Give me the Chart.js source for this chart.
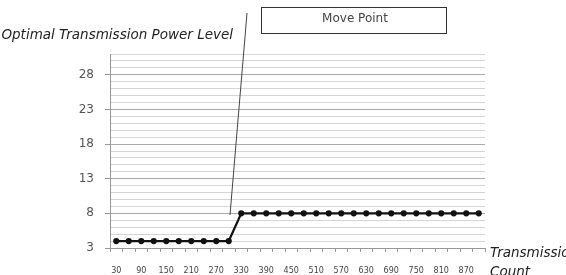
<!DOCTYPE html>
<html lang="en">
<head>
    <meta charset="UTF-8">
    <title>Optimal Transmission Power Level</title>
    <style>
        body {
            margin: 0;
            padding: 0;
            background: #ffffff;
        }
        canvas {
            display: block;
        }
    </style>
</head>
<body>
    <canvas id="chart" width="566" height="275"></canvas>
    <script src="https://cdn.jsdelivr.net/npm/chart.js"></script>
    <script>
        // transmission count, 30 .. 900
        const counts = [30, 60, 90, 120, 150, 180, 210, 240, 270, 300,
                        330, 360, 390, 420, 450, 480, 510, 540, 570, 600,
                        630, 660, 690, 720, 750, 780, 810, 840, 870, 900];
        const powerLevel = [4, 4, 4, 4, 4, 4, 4, 4, 4, 4,
                            8, 8, 8, 8, 8, 8, 8, 8, 8, 8,
                            8, 8, 8, 8, 8, 8, 8, 8, 8, 8];
        const yTicks = [3, 8, 13, 18, 23, 28];
        const yMin = 3;
        const yMax = 31;

        // titles and the "Move Point" note
        const extras = {
            id: 'extras',
            afterDraw(chart) {
                const ctx = chart.ctx;
                ctx.save();
                ctx.fillStyle = '#222';
                ctx.font = 'italic 13.5px "DejaVu Sans", sans-serif';
                ctx.textBaseline = 'middle';
                ctx.textAlign = 'right';
                ctx.fillText('Optimal Transmission Power Level', 233, 35);
                ctx.textAlign = 'left';
                ctx.fillText('Transmission', 490, 253);
                ctx.fillText('Count', 490, 272);

                // box
                ctx.strokeStyle = '#333';
                ctx.lineWidth = 1;
                ctx.fillStyle = '#fff';
                ctx.fillRect(261, 7, 185, 26);
                ctx.strokeRect(261.5, 7.5, 185, 26);
                ctx.fillStyle = '#444';
                ctx.font = '12px "DejaVu Sans", sans-serif';
                ctx.textAlign = 'center';
                ctx.fillText('Move Point', 355, 19);

                // pointer line
                ctx.strokeStyle = '#444';
                ctx.beginPath();
                ctx.moveTo(247, 13);
                ctx.lineTo(230, 215);
                ctx.stroke();
                ctx.restore();
            }
        };

        const ctx = document.getElementById('chart').getContext('2d');
        new Chart(ctx, {
            type: 'line',
            data: {
                labels: counts,
                datasets: [{
                    data: powerLevel,
                    borderColor: '#111',
                    backgroundColor: '#111',
                    borderWidth: 2.2,
                    pointRadius: 2,
                    pointHoverRadius: 2,
                    tension: 0
                }]
            },
            options: {
                responsive: false,
                animation: false,
                devicePixelRatio: 1,
                layout: {
                    padding: { left: 0, right: 81, top: 54, bottom: 0 }
                },
                plugins: {
                    legend: { display: false },
                    tooltip: { enabled: false }
                },
                scales: {
                    x: {
                        offset: true,
                        grid: {
                            offset: true,
                            drawOnChartArea: false,
                            color: '#999',
                            tickLength: 4
                        },
                        border: { color: '#999' },
                        ticks: {
                            autoSkip: false,
                            maxRotation: 0,
                            padding: 14,
                            color: '#444',
                            font: { size: 8, family: '"DejaVu Sans", sans-serif' },
                            callback: function (value, index) {
                                return index % 2 === 0 ? counts[index] : '';
                            }
                        },
                        afterFit: function (axis) { axis.height = 27; }
                    },
                    y: {
                        min: yMin,
                        max: yMax,
                        grid: {
                            color: function (c) {
                                return yTicks.includes(c.tick.value) ? '#aaa' : '#d4d4d4';
                            },
                            tickColor: function (c) {
                                return yTicks.includes(c.tick.value) ? '#999' : 'rgba(0,0,0,0)';
                            },
                            tickLength: 5
                        },
                        border: { color: '#999' },
                        ticks: {
                            stepSize: 1,
                            autoSkip: false,
                            padding: 11,
                            color: '#555',
                            font: { size: 12, family: '"DejaVu Sans", sans-serif' },
                            callback: function (value) {
                                return yTicks.includes(value) ? value : '';
                            }
                        },
                        afterFit: function (axis) { axis.width = 110; }
                    }
                }
            },
            plugins: [extras]
        });
    </script>
</body>
</html>
